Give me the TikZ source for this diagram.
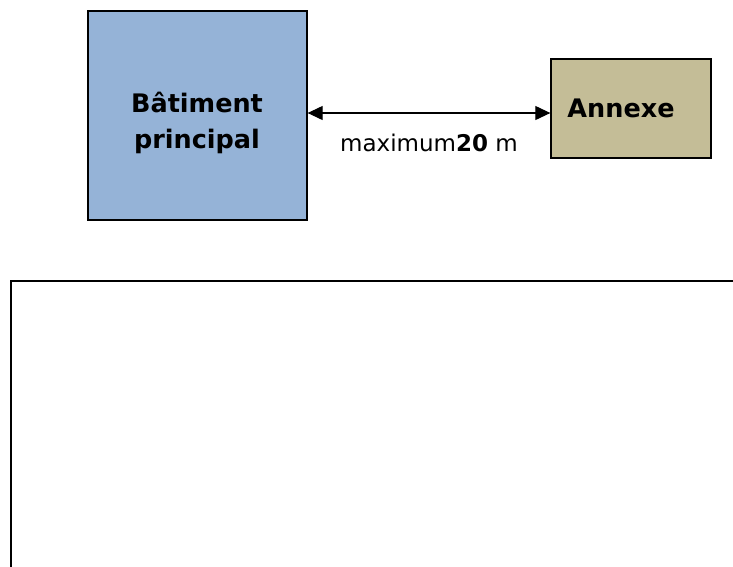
\documentclass[tikz,border=0pt]{standalone}
\usepackage{fontspec}
\setmainfont{DejaVu Sans}
\usetikzlibrary{arrows.meta}
\definecolor{bleu}{HTML}{95B3D7}
\definecolor{beige}{HTML}{C4BD97}
\tikzset{
  building/.style={draw=black, line width=1.3pt, inner sep=0pt},
  bigtext/.style={font=\fontsize{25.5}{36}\selectfont\bfseries, align=center, inner sep=0pt},
  dim/.style={line width=1.1pt, {Triangle[length=15pt,width=14pt]}-{Triangle[length=15pt,width=14pt]}},
  zone/.style={draw=black, line width=2pt}
}
\begin{document}
\begin{tikzpicture}[x=1pt,y=-1pt]
\useasboundingbox (0,0) rectangle (733,566);
\clip (0,0) rectangle (733,566);
\node[building, fill=bleu, minimum width=219pt, minimum height=209pt] (bat) at (197.5,115.5) {};
\node[bigtext, anchor=base] (battxt) at (197,112.5) {Bâtiment};
\node[bigtext, anchor=base] (battxt2) at (197,148.5) {principal};
\node[building, fill=beige, minimum width=160pt, minimum height=99pt] (ann) at (631,108.5) {};
\node[bigtext, anchor=base] (anntxt) at (621,117) {Annexe};
\draw[dim] (bat.east |- 0,113) coordinate (a1) -- (ann.west |- 0,113) coordinate (a2);
\node[font=\fontsize{23}{28}\selectfont, inner sep=0pt, anchor=base] (lbl) at (429,151) {maximum\textbf{20} m};
\draw[zone] (11,281) rectangle (800,620);
\end{tikzpicture}
\end{document}
